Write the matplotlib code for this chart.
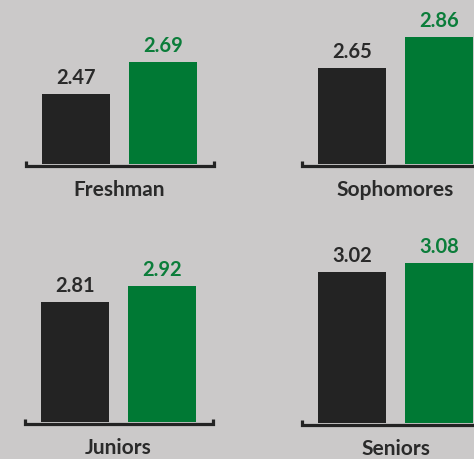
import matplotlib
matplotlib.use("Agg")
import matplotlib.pyplot as plt
from matplotlib.transforms import ScaledTranslation

# Average score by class year, two series per group
groups = ["Freshman", "Sophomores", "Juniors", "Seniors"]
series_a = [2.47, 2.65, 2.81, 3.02]
series_b = [2.69, 2.86, 2.92, 3.08]

W, H, DPI = 474, 460, 100
BG = "#cbc9c9"
DARK = "#232323"
GREEN = "#007934"
GREEN_TEXT = "#0b7d3a"
LABEL = "#2a2a2a"

y_floor, y_top = 2.0, 3.1
px_per_unit = 148
panel_w = 191
pt = 72 / DPI  # points per pixel

# (left edge, baseline) of each small panel in pixels from the top-left
panels = [(24, 165), (300, 165), (23, 423), (300, 424)]

plt.rcParams['font.family'] = ['Lato', 'DejaVu Sans']
fig = plt.figure(figsize=(W / DPI, H / DPI), dpi=DPI, facecolor=BG)

for name, a, b, (left, base) in zip(groups, series_a, series_b, panels):
    h = px_per_unit * (y_top - y_floor)
    ax = fig.add_axes([left / W, (H - base) / H, panel_w / W, h / H])
    ax.set_facecolor("none")
    ax.bar([0, 1], [a, b], width=0.78, color=[DARK, GREEN])
    ax.set_xlim(-0.6, 1.6)
    ax.set_ylim(y_floor, y_top)
    for s in ax.spines.values():
        s.set_visible(False)
    ax.set_xticks([])
    ax.set_yticks([])

    # bracket-shaped baseline under the bars
    trans = ax.transAxes + ScaledTranslation(0, -1.5 / DPI, fig.dpi_scale_trans)
    tick = 4.5 / h
    dx = 1.5 / panel_w
    ax.plot([dx, dx, 1 - dx, 1 - dx], [tick, 0, 0, tick], transform=trans,
            color=DARK, lw=3.2 * pt, solid_capstyle="butt",
            solid_joinstyle="miter", clip_on=False)

    for x, v, c in ((0, a, LABEL), (1, b, GREEN_TEXT)):
        ax.annotate(f"{v:.2f}", xy=(x, v), xytext=(0, 11 * pt),
                    textcoords="offset points", ha="center", va="baseline",
                    fontsize=14.5, fontweight="bold", color=c,
                    annotation_clip=False)

    ax.annotate(name, xy=(0.5, 0), xycoords=("data", "axes fraction"),
                xytext=(0, -31 * pt), textcoords="offset points",
                ha="center", va="baseline", fontsize=15, fontweight="bold",
                color=LABEL, annotation_clip=False)

fig.savefig("out.png", dpi=DPI, facecolor=BG)
